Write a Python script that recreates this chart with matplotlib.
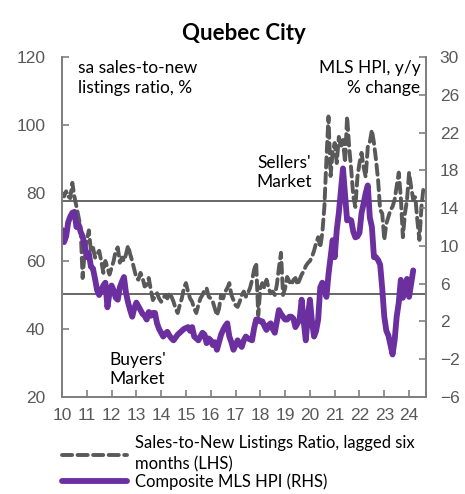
"""Quebec City: sales-to-new listings ratio vs MLS HPI growth."""

import matplotlib

matplotlib.use("Agg")
import matplotlib.pyplot as plt  # noqa: E402
import numpy as np  # noqa: E402

# monthly from Jan 2010; ratio is lagged six months so it runs further right
ratio_lhs = [
    80, 79, 80.5, 79, 78.5, 83, 79, 76, 73, 70, 55, 63,
    66, 69, 63, 64, 61, 62, 63, 60, 56.5, 60, 58, 56,
    58, 60, 63, 64, 59.5, 61, 60, 62, 64.5, 62, 60, 57.5,
    55, 54.5, 56.5, 55, 52.5, 53, 55, 51.5, 48.5, 49.5, 50.5, 49,
    48, 49, 50, 49, 50.6, 49.5, 48, 46, 44.7, 47, 49, 52,
    53.5, 51, 49, 48, 46, 44.7, 47, 49, 50, 51.5, 52, 49.5,
    49, 48, 46, 44, 46, 50, 49, 51, 52, 53.5, 50, 48.5,
    47, 46.5, 48, 50, 51, 49.5, 50.6, 52, 54.4, 57.4, 59.4, 44,
    52, 53.5, 52, 54.5, 52, 50.5, 51, 50, 53, 58, 62.4, 50,
    52, 55.3, 54, 53, 54.4, 55, 53, 54.5, 56, 57, 58.5, 59.4,
    60, 61.2, 63, 65.3, 67, 64, 68.2, 75.9, 90, 102.5, 85, 92,
    94.7, 88.8, 96.5, 93.5, 95.6, 89, 102.5, 93.5, 86.8, 79, 75.9, 84.7,
    88.8, 91.8, 87.6, 84.7, 93.5, 95, 98.5, 94.7, 89.7, 83.8, 75, 74,
    66.2, 71, 73, 75, 76, 78, 82, 86, 78.8, 67, 74, 78,
    86, 81.8, 78, 78.8, 72, 66.2, 75.9, 81.8, 82,
]
hpi_rhs = [
    11.7, 10.4, 11.0, 12.5, 13.1, 13.5, 13.6, 12.0, 12.3, 11.5, 11.0, 10.0,
    8.8, 9.2, 7.8, 7.6, 6.5, 5.3, 4.8, 5.3, 5.8, 6.1, 3.5, 5.0,
    5.8, 5.3, 4.5, 4.3, 5.6, 6.2, 6.7, 5.0, 4.0, 3.2, 2.5, 3.4,
    4.0, 3.6, 3.2, 2.8, 2.6, 2.2, 3.0, 2.6, 2.9, 2.9, 1.8, 1.2,
    0.8, 0.4, 0.7, 0.9, 0.5, 0.2, 0.0, 0.3, 0.6, 0.8, 1.0, 1.2,
    1.3, 1.4, 1.0, 1.4, 0.4, 0.2, 0.0, 0.4, 0.8, 0.6, -0.3, 0.2,
    0.0, -0.5, -0.2, -1.0, -0.2, 0.6, 1.1, 1.5, 1.8, 0.4, -0.2, -1.0,
    -0.5, 0.0, -0.4, -0.7, 0.0, 0.4, 0.2, 0.1, 0.0, 1.3, 2.2, 2.2,
    2.0, 2.0, 1.5, 1.1, 1.6, 1.8, 1.2, 0.8, 2.0, 3.2, 2.8, 2.5,
    2.2, 2.2, 2.5, 2.5, 2.3, 1.4, 1.8, 2.2, 4.3, 2.0, 0.0, 2.5,
    4.3, 2.0, 0.4, 1.0, 2.2, 5.6, 6.1, 5.5, 4.6, 7.0, 8.8, 10.6,
    8.8, 11.7, 13.5, 15.9, 18.2, 15.5, 12.7, 12.8, 12.7, 11.5, 10.9, 11.0,
    11.4, 13.5, 14.5, 15.6, 16.4, 13.0, 12.0, 8.8, 8.8, 8.5, 8.0, 5.5,
    2.5, 1.0, 0.5, -0.5, -1.5, 0.0, 2.5, 4.0, 6.4, 4.5, 5.5, 6.5,
    4.6, 6.0, 7.4,
]
sellers_threshold = 77.6
buyers_threshold = 50.3
year_labels = [str(y) for y in range(10, 25)]

GREY = "#595959"
PURPLE = "#6b2fa0"
TEXT_FONT = ["Lato", "DejaVu Sans"]
TICK_FONT = ["Liberation Sans", "DejaVu Sans"]

ratio_x = 2010 + np.arange(len(ratio_lhs)) / 12
hpi_x = 2010 + np.arange(len(hpi_rhs)) / 12

fig = plt.figure(figsize=(4.65, 4.94), dpi=100)
ax = fig.add_axes([0.1333, 0.1964, 0.7827, 0.6882])
ax2 = ax.twinx()

ax.plot(ratio_x, ratio_lhs, color=GREY, lw=2.8, dashes=(2.6, 1.4),
        dash_capstyle="round", label="Sales-to-New Listings Ratio, lagged six\nmonths (LHS)")
ax.axhline(sellers_threshold, color="#666666", lw=1.4, zorder=1)
ax.axhline(buyers_threshold, color="#666666", lw=1.4, zorder=1)
ax2.plot(hpi_x, hpi_rhs, color=PURPLE, lw=4.2, solid_joinstyle="round",
         solid_capstyle="round", label="Composite MLS HPI (RHS)")

ax.set_xlim(2010, 2024.68)
ax.set_ylim(20, 120)
ax2.set_ylim(-6, 30)
ax.set_xticks(range(2010, 2025))
ax.set_xticklabels(year_labels)
ax.set_yticks(range(20, 121, 20))
ax2.set_yticks(range(-6, 31, 4))

for a in (ax, ax2):
    a.spines["top"].set_visible(False)
    for side in ("left", "right", "bottom"):
        a.spines[side].set_color("#808080")
        a.spines[side].set_linewidth(1.4)
    a.tick_params(direction="in", length=5, width=1.2, color="#808080",
                  labelcolor=GREY, labelsize=12.5)
    for lab in a.get_xticklabels() + a.get_yticklabels():
        lab.set_family(TICK_FONT)
ax.tick_params(axis="y", pad=12)
ax.tick_params(axis="x", pad=8)
ax2.tick_params(axis="y", pad=10)

ax.set_title("Quebec City", fontsize=16, fontweight="bold", family=TEXT_FONT, pad=12)

ax.text(0.045, 0.99, "sa sales-to-new\nlistings ratio, %", transform=ax.transAxes,
        ha="left", va="top", fontsize=12.5, family=TEXT_FONT, linespacing=1.25)
ax.text(0.985, 0.99, "MLS HPI, y/y\n% change", transform=ax.transAxes,
        ha="right", va="top", fontsize=12.5, family=TEXT_FONT, linespacing=1.25,
        multialignment="right")
ax.text(2018.95, 86, "Sellers'\nMarket", ha="center", va="center",
        fontsize=12.5, family=TEXT_FONT, linespacing=1.25)
ax.text(2013.05, 28, "Buyers'\nMarket", ha="center", va="center",
        fontsize=12.5, family=TEXT_FONT, linespacing=1.25)

handles = ax.get_legend_handles_labels()[0] + ax2.get_legend_handles_labels()[0]
labels = [h.get_label() for h in handles]
leg = fig.legend(handles, labels, loc="upper left", bbox_to_anchor=(0.12, 0.132),
                 frameon=False, fontsize=12, handlelength=3.9, handletextpad=0.45,
                 labelspacing=0.05, borderaxespad=0)
for t in leg.get_texts():
    t.set_family(TEXT_FONT)
    t.set_linespacing(1.4)

fig.savefig("out.png", dpi=100)
